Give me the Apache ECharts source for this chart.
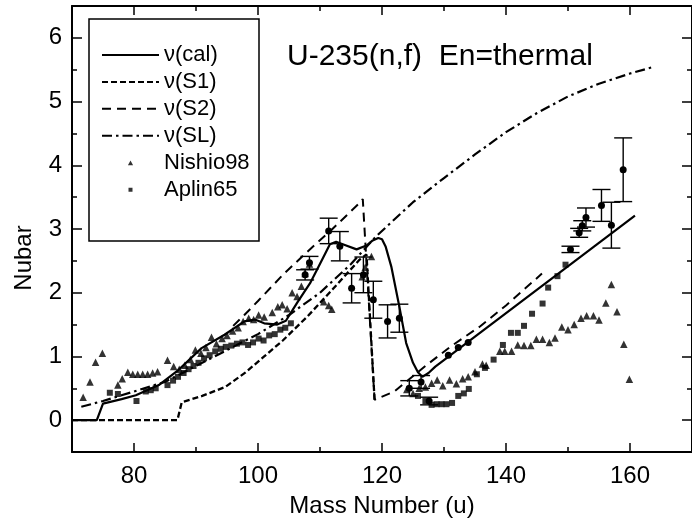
<!DOCTYPE html>
<html><head><meta charset="utf-8">
<script src="https://cdn.jsdelivr.net/npm/echarts@6/dist/echarts.min.js"></script>
<style>html,body{margin:0;padding:0;background:#fff}#c{width:692px;height:526px}</style>
</head><body><div id="c"></div>
<script>
// ---- data ----
const xMajor = [80, 100, 120, 140, 160];
const xMinor = [90, 110, 130, 150];
const yMajor = [0, 1, 2, 3, 4, 5, 6];
const yMinor = [0.5, 1.5, 2.5, 3.5, 4.5, 5.5];

const calMass = [70, 74, 75, 78, 80.3, 84, 87.2, 90.9, 94.6, 97.8, 99.5, 101, 103.1, 104.5, 106.3, 108.4, 110.5, 111.6, 112.6, 114, 115.9, 117.5, 118.5, 119.4, 120, 120.6, 121.5, 122.8, 123.9, 125, 125.8, 126.5, 127.5, 128.6, 160.8];
const calNu   = [0, 0, 0.26, 0.33, 0.39, 0.55, 0.79, 1.13, 1.34, 1.55, 1.58, 1.52, 1.5, 1.56, 1.84, 2.15, 2.55, 2.76, 2.8, 2.75, 2.68, 2.74, 2.82, 2.86, 2.84, 2.72, 2.41, 1.78, 1.21, 0.9, 0.75, 0.68, 0.74, 0.84, 3.21];

const s1Mass = [70, 87, 87.7, 91, 94.7, 98, 101, 104, 108, 112, 116.4, 117.5, 118.8];
const s1Nu   = [0, 0, 0.28, 0.38, 0.52, 0.75, 1.0, 1.25, 1.63, 2.05, 2.52, 2.6, 0.32];

const s2Mass = [96, 97.8, 100, 104.2, 107.7, 112, 116.4, 116.9, 118.8, 122, 127, 131, 135.8, 140, 145.8];
const s2Nu   = [1.48, 1.65, 1.87, 2.3, 2.62, 3.0, 3.41, 3.47, 0.32, 0.45, 0.85, 1.15, 1.47, 1.8, 2.3];

const slMass = [71.5, 75, 80, 85, 90, 95, 100, 105, 110, 115, 119, 125, 130, 135, 140, 145, 150, 155, 160, 164];
const slNu   = [0.21, 0.3, 0.45, 0.6, 0.85, 1.1, 1.35, 1.65, 2.0, 2.45, 2.88, 3.42, 3.8, 4.17, 4.52, 4.82, 5.08, 5.28, 5.44, 5.55];

const nishioMass = [71.8, 72.9, 73.8, 74.9, 77.4, 78.1, 79.0, 79.8, 80.6, 81.4, 82.2, 83.0, 83.8, 85.4, 86.4, 87.3, 88.2, 89.1, 89.9, 90.8, 91.6, 92.5, 93.3, 94.2, 95.0, 95.9, 96.8, 97.6, 98.5, 99.3, 100.1, 101.0, 102.3, 103.2, 103.9, 104.7, 105.5, 106.3, 107.0, 107.6, 108.3, 110.6, 111.4, 111.9, 116.8, 117.3, 118.3,
  124, 125, 126, 127, 128, 128.9, 129.8, 130.9, 132.0, 133.0, 133.9, 135.0, 136.2, 136.8, 139.0, 139.8, 140.9, 141.9, 142.9, 144.0, 144.9, 145.9, 147.0, 147.9, 149.0, 150.0, 151.0, 152.1, 153.0, 154.1, 155.0, 156.1, 157.0, 157.9, 159.0, 159.9];
const nishioNu = [0.36, 0.60, 0.91, 1.05, 0.55, 0.65, 0.75, 0.72, 0.72, 0.72, 0.72, 0.74, 0.76, 0.94, 0.84, 0.80, 0.86, 0.95, 1.10, 1.05, 1.14, 1.30, 1.20, 1.28, 1.33, 1.40, 1.45, 1.55, 1.60, 1.58, 1.65, 1.62, 1.69, 1.78, 1.81, 1.75, 2.00, 1.94, 2.10, 2.30, 2.45, 1.86, 1.80, 1.74, 2.25, 2.40, 2.57,
  0.48, 0.42, 0.50, 0.52, 0.58, 0.63, 0.54, 0.63, 0.57, 0.65, 0.68, 0.76, 0.88, 0.86, 1.08, 1.08, 1.08, 1.18, 1.17, 1.17, 1.27, 1.27, 1.22, 1.29, 1.46, 1.42, 1.50, 1.60, 1.64, 1.64, 1.57, 1.84, 2.13, 1.70, 1.19, 0.64];

const aplinMass = [76.1, 77.4, 80.4, 81.9, 82.7, 83.5, 85.4, 86.3, 87.1, 88.0, 88.8, 89.6, 90.4, 91.3, 92.2, 93.1, 94.0, 94.8, 95.7, 96.6, 97.5, 98.4, 99.2, 100.1, 100.9, 101.8, 102.7, 103.6, 104.4, 105.3,
  125.8, 127.0, 128.0, 128.8, 129.6, 130.4, 131.3, 132.3, 133.2, 134.0, 135.3, 136.6, 138.0, 139.5, 140.8, 141.9, 142.9, 144.2, 145.9, 146.8, 148.3, 149.6];
const aplinNu = [0.43, 0.41, 0.30, 0.45, 0.47, 0.50, 0.55, 0.62, 0.68, 0.74, 0.80, 0.85, 0.90, 0.97, 1.02, 1.08, 1.12, 1.15, 1.17, 1.20, 1.22, 1.18, 1.22, 1.28, 1.25, 1.33, 1.35, 1.42, 1.45, 1.52,
  0.38, 0.30, 0.24, 0.25, 0.25, 0.25, 0.27, 0.38, 0.42, 0.49, 0.72, 0.82, 0.95, 1.18, 1.37, 1.37, 1.48, 1.67, 1.83, 2.08, 2.26, 2.44];

// points with error bars (not in legend)
const expMass = [107.6, 108.3, 111.4, 113.2, 115.1, 117.0, 118.6, 120.9, 122.8, 124.4, 126.3, 127.6, 130.7, 132.3, 133.9, 150.4, 151.8, 152.3, 152.9, 155.4, 157.0, 158.9];
const expNu   = [2.28, 2.47, 2.97, 2.73, 2.07, 2.28, 1.89, 1.55, 1.60, 0.50, 0.60, 0.30, 1.02, 1.14, 1.22, 2.68, 2.94, 3.05, 3.18, 3.37, 3.06, 3.93];
const expErr  = [0.08, 0.10, 0.20, 0.23, 0.23, 0.28, 0.29, 0.26, 0.22, 0.12, 0.10, 0.06, 0, 0, 0, 0.05, 0.07, 0.08, 0.15, 0.25, 0.36, 0.50];

// ---- chart ----
const FONT = '"Liberation Sans", Arial, Helvetica, sans-serif';
const pairs = (a, b) => a.map((v, i) => [v, b[i]]);
const black = '#000';
const clear = 'rgba(0,0,0,0)';
// legend marker icons: small glyph centred in a 57x6 box (corner specks fix the box)
const boxCorners = 'M0,0L0.001,0L0,0.001Z M57,6L56.999,6L57,5.999Z ';
const triIcon = 'path://' + boxCorners + 'M25.9,5.6L28.5,1L31.1,5.6Z';
const sqIcon  = 'path://' + boxCorners + 'M26.5,1.2L30.5,1.2L30.5,5.2L26.5,5.2Z';

function axis(kind, pos, ticks, len, opts) {
  const a = {
    type: 'value', position: pos,
    min: kind === 'x' ? 70 : -0.5, max: kind === 'x' ? 170 : 6.5,
    axisLine: { show: !!opts.line, onZero: false, lineStyle: { color: black, width: 2 } },
    axisTick: { show: true, inside: true, length: len, customValues: ticks, lineStyle: { color: black, width: 1.5 } },
    axisLabel: { show: false },
    splitLine: { show: false },
    minorTick: { show: false }
  };
  if (opts.labels) {
    a.axisLabel = { show: true, customValues: ticks, margin: opts.margin, fontSize: 24, color: black, fontFamily: FONT };
  }
  if (opts.name) {
    a.name = opts.name; a.nameLocation = 'middle'; a.nameGap = opts.nameGap;
    a.nameTextStyle = { fontSize: 24, color: black, fontFamily: FONT };
  }
  return a;
}

const option = {
  animation: false,
  backgroundColor: '#fff',
  title: {
    text: 'U-235(n,f)  En=thermal', left: 287, top: 42, padding: 0,
    textStyle: { fontSize: 30, fontWeight: 'normal', fontFamily: FONT, color: black, lineHeight: 30 }
  },
  grid: { left: 72, top: 6, right: -7.5, bottom: 74, containLabel: false },
  xAxis: [
    axis('x', 'bottom', xMajor, 9, { line: true, labels: true, margin: 12, name: 'Mass Number (u)', nameGap: 42 }),
    axis('x', 'bottom', xMinor, 5, {}),
    axis('x', 'top', xMajor, 9, { line: true }),
    axis('x', 'top', xMinor, 5, {})
  ],
  yAxis: [
    axis('y', 'left', yMajor, 10, { line: true, labels: true, margin: 10 }),
    axis('y', 'left', yMinor, 5, {}),
    axis('y', 'right', yMajor, 10, { line: true }),
    axis('y', 'right', yMinor, 5, {})
  ],
  legend: {
    data: [
      { name: 'ν(cal)', itemStyle: { color: clear, borderColor: clear, borderWidth: 0 } },
      { name: 'ν(S1)', itemStyle: { color: clear, borderColor: clear, borderWidth: 0 } },
      { name: 'ν(S2)', itemStyle: { color: clear, borderColor: clear, borderWidth: 0 } },
      { name: 'ν(SL)', itemStyle: { color: clear, borderColor: clear, borderWidth: 0 } },
      { name: 'Nishio98', icon: triIcon },
      { name: 'Aplin65', icon: sqIcon }
    ],
    orient: 'vertical', left: 101, top: 44, padding: 0,
    itemWidth: 57, itemHeight: 6, itemGap: 4.9,
    selectedMode: false,
    textStyle: { fontSize: 22, lineHeight: 22, color: black, fontFamily: FONT }
  },
  graphic: [
    {
      type: 'rect', shape: { x: 89, y: 19, width: 170, height: 222 },
      style: { fill: 'none', stroke: black, lineWidth: 1.5 }, z: 100
    },
    {
      type: 'text', x: 24, y: 258, rotation: Math.PI / 2,
      style: { text: 'Nubar', fontSize: 24, fontFamily: FONT, fill: black, align: 'center', verticalAlign: 'middle' }
    }
  ],
  series: [
    { name: 'ν(cal)', type: 'line', data: pairs(calMass, calNu), symbol: 'none', lineStyle: { color: black, width: 2.2 }, itemStyle: { color: black } },
    { name: 'ν(S1)', type: 'line', data: pairs(s1Mass, s1Nu), symbol: 'none', lineStyle: { color: black, width: 2.3, type: [6, 3] }, itemStyle: { color: black } },
    { name: 'ν(S2)', type: 'line', data: pairs(s2Mass, s2Nu), symbol: 'none', lineStyle: { color: black, width: 2, type: [9, 6] }, itemStyle: { color: black } },
    { name: 'ν(SL)', type: 'line', data: pairs(slMass, slNu), symbol: 'none', lineStyle: { color: black, width: 2.2, type: [10, 4, 2.5, 4] }, itemStyle: { color: black } },
    { name: 'Nishio98', type: 'scatter', data: pairs(nishioMass, nishioNu), symbol: 'triangle', symbolSize: 7.5, itemStyle: { color: black } },
    { name: 'Aplin65', type: 'scatter', data: pairs(aplinMass, aplinNu), symbol: 'rect', symbolSize: 6, itemStyle: { color: black } },
    {
      name: 'exp', type: 'custom', clip: true,
      data: expMass.map((m, i) => [m, expNu[i], expErr[i]]),
      encode: { x: 0, y: 1 },
      renderItem: function (params, api) {
        const m = api.value(0), v = api.value(1), e = api.value(2);
        const c = api.coord([m, v]);
        const children = [];
        if (e > 0) {
          const t = api.coord([m, v + e]), b = api.coord([m, v - e]);
          const ls = { stroke: black, lineWidth: 1.4 };
          children.push({ type: 'line', shape: { x1: c[0], y1: t[1], x2: c[0], y2: b[1] }, style: ls });
          children.push({ type: 'line', shape: { x1: c[0] - 9, y1: t[1], x2: c[0] + 9, y2: t[1] }, style: ls });
          children.push({ type: 'line', shape: { x1: c[0] - 9, y1: b[1], x2: c[0] + 9, y2: b[1] }, style: ls });
        }
        children.push({ type: 'circle', shape: { cx: c[0], cy: c[1], r: 3.5 }, style: { fill: black } });
        return { type: 'group', children: children };
      }
    }
  ]
};
const chart = echarts.init(document.getElementById('c'), null, { renderer: 'canvas' });
chart.setOption(option);
</script></body></html>
